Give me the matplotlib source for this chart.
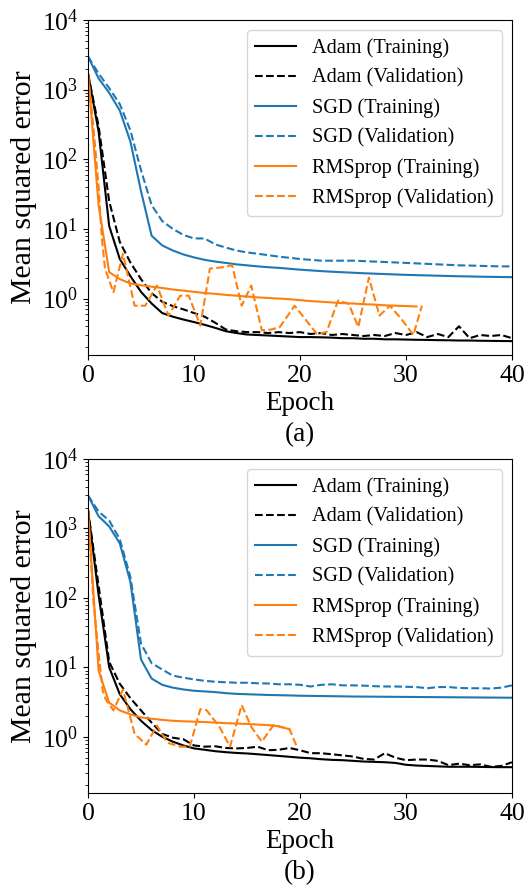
import numpy as np
import matplotlib
matplotlib.use("Agg")
import matplotlib.pyplot as plt

plt.rcParams['font.family'] = ['Liberation Serif', 'DejaVu Serif']
plt.rcParams['mathtext.fontset'] = 'custom'
plt.rcParams['mathtext.rm'] = 'Liberation Serif'
plt.rcParams['mathtext.it'] = 'Liberation Serif:italic'

# ---------------- Panel (a) ----------------
a_epochs = list(range(41))
a_sgd_train = [3000, 1450, 900, 500, 180, 35, 8, 5.8, 4.9, 4.3, 3.9, 3.6, 3.4, 3.25, 3.1, 3.0,
               2.9, 2.82, 2.76, 2.68, 2.6, 2.54, 2.48, 2.43, 2.39, 2.35, 2.31, 2.28, 2.25, 2.22,
               2.19, 2.17, 2.15, 2.13, 2.11, 2.09, 2.08, 2.06, 2.05, 2.04, 2.03]
a_sgd_val = [3000, 1700, 1050, 620, 260, 70, 22, 13, 10, 8.2, 7.3, 7.3, 6.0, 5.4, 4.9, 4.6,
             4.4, 4.2, 4.0, 3.85, 3.7, 3.6, 3.5, 3.5, 3.5, 3.5, 3.45, 3.4, 3.35, 3.3,
             3.25, 3.2, 3.15, 3.1, 3.05, 3.0, 2.98, 2.95, 2.92, 2.9, 2.9]
a_adam_train = [1700, 250, 11, 3.7, 2.1, 1.25, 0.85, 0.62, 0.55, 0.5, 0.46, 0.42, 0.38, 0.34,
                0.32, 0.305, 0.3, 0.295, 0.29, 0.285, 0.28, 0.28, 0.278, 0.275, 0.27, 0.27,
                0.265, 0.265, 0.26, 0.26, 0.258, 0.256, 0.255, 0.253, 0.252, 0.25, 0.25,
                0.248, 0.247, 0.246, 0.245]
a_adam_val = [1700, 300, 25, 6.5, 3.3, 1.9, 1.2, 0.9, 0.78, 0.7, 0.62, 0.55, 0.45, 0.36, 0.34,
              0.33, 0.33, 0.32, 0.33, 0.32, 0.33, 0.31, 0.32, 0.3, 0.31, 0.3, 0.29, 0.3, 0.29,
              0.32, 0.3, 0.33, 0.28, 0.31, 0.28, 0.4, 0.27, 0.3, 0.29, 0.3, 0.27]
a_rms_train_epochs = list(range(32))
a_rms_train = [1700, 22, 2.4, 1.9, 1.65, 1.55, 1.48, 1.42, 1.35, 1.3, 1.25, 1.2, 1.17, 1.13,
               1.1, 1.07, 1.04, 1.02, 1.0, 0.98, 0.95, 0.92, 0.9, 0.88, 0.86, 0.85, 0.83,
               0.82, 0.8, 0.79, 0.78, 0.77]
a_rms_val_epochs = [0, 0.5, 1.0, 1.3, 1.6, 2.4, 3.3, 4.4, 5.4, 6.5, 7.6, 8.7, 9.5, 10.6, 11.5,
                    12.6, 13.6, 14.5, 15.4, 16.4, 17.3, 18.1, 19.5, 21.6, 22.5, 23.6, 24.6,
                    25.5, 26.5, 27.5, 28.5, 29.6, 30.7, 31.5]
a_rms_val = [1700, 300, 40, 7.6, 2.7, 1.23, 4.4, 0.79, 0.79, 1.54, 0.57, 1.1, 1.1, 0.41, 2.7,
             2.8, 3.0, 0.79, 1.54, 0.35, 0.36, 0.39, 0.79, 0.31, 0.33, 0.94, 0.84, 0.39, 2.0,
             0.57, 0.79, 0.5, 0.30, 0.79]

# ---------------- Panel (b) ----------------
b_epochs = list(range(41))
b_sgd_train = [3000, 1500, 1070, 610, 170, 13, 6.9, 5.6, 5.1, 4.8, 4.6, 4.5, 4.4, 4.25, 4.15,
               4.1, 4.05, 4.0, 3.97, 3.94, 3.9, 3.88, 3.86, 3.84, 3.82, 3.8, 3.79, 3.78, 3.77,
               3.76, 3.75, 3.74, 3.73, 3.72, 3.71, 3.7, 3.69, 3.68, 3.67, 3.66, 3.65]
b_sgd_val = [3000, 1750, 1300, 700, 200, 22, 11.5, 9.3, 7.6, 7.1, 6.7, 6.4, 6.2, 6.1, 6.0, 6.0,
             5.9, 5.85, 5.7, 5.7, 5.6, 5.3, 5.6, 5.7, 5.5, 5.5, 5.45, 5.35, 5.3, 5.3, 5.25,
             5.2, 5.0, 5.2, 5.2, 5.05, 5.0, 5.0, 4.95, 5.1, 5.5]
b_adam_train = [1850, 110, 10, 4.1, 2.5, 1.7, 1.25, 1.0, 0.85, 0.75, 0.68, 0.65, 0.62, 0.6,
                0.585, 0.575, 0.56, 0.545, 0.53, 0.515, 0.5, 0.49, 0.475, 0.465, 0.46, 0.45,
                0.44, 0.435, 0.43, 0.42, 0.395, 0.385, 0.38, 0.375, 0.37, 0.37, 0.37, 0.368,
                0.366, 0.365, 0.365]
b_adam_val = [1850, 150, 12, 5.8, 3.6, 2.4, 1.6, 1.1, 0.97, 0.92, 0.75, 0.72, 0.73, 0.69, 0.68,
              0.69, 0.72, 0.64, 0.65, 0.69, 0.64, 0.58, 0.58, 0.56, 0.54, 0.52, 0.48, 0.47,
              0.58, 0.5, 0.46, 0.47, 0.47, 0.45, 0.39, 0.41, 0.39, 0.4, 0.37, 0.38, 0.43]
b_rms_train_epochs = list(range(20))
b_rms_train = [1850, 9, 3.1, 2.4, 2.1, 1.9, 1.82, 1.75, 1.7, 1.67, 1.65, 1.63, 1.6, 1.57,
               1.55, 1.53, 1.5, 1.47, 1.42, 1.28]
b_rms_val_epochs = [0, 0.5, 1.0, 1.4, 1.7, 2.4, 3.3, 4.4, 5.5, 6.5, 7.5, 8.7, 9.6, 10.6, 11.2,
                    12.4, 13.4, 14.5, 15.4, 16.4, 17.5, 18.1, 19.0, 19.7]
b_rms_val = [1850, 93, 16, 4.5, 3.4, 2.4, 4.8, 1.1, 0.77, 1.45, 0.82, 0.72, 0.72, 2.5, 2.4,
             1.39, 0.72, 2.86, 1.39, 0.85, 1.47, 1.39, 1.3, 0.72]

xticks = [0, 10, 20, 30, 40]
labels = ['Adam (Training)', 'Adam (Validation)', 'SGD (Training)', 'SGD (Validation)',
          'RMSprop (Training)', 'RMSprop (Validation)']
BLUE = '#1f77b4'
ORANGE = '#ff7f0e'

fig = plt.figure(figsize=(5.25, 8.91), dpi=100)
ax_a = fig.add_axes([0.1676, 0.6016, 0.8076, 0.376])
ax_b = fig.add_axes([0.1676, 0.110, 0.8076, 0.3748])

panels = [
    (ax_a, a_epochs, a_adam_train, a_adam_val, a_sgd_train, a_sgd_val,
     a_rms_train_epochs, a_rms_train, a_rms_val_epochs, a_rms_val, '(a)'),
    (ax_b, b_epochs, b_adam_train, b_adam_val, b_sgd_train, b_sgd_val,
     b_rms_train_epochs, b_rms_train, b_rms_val_epochs, b_rms_val, '(b)'),
]

FS = 18.5
lw = 1.5
for (ax, ep, adt, adv, sgt, sgv, rte, rt, rve, rv, tag) in panels:
    ax.plot(ep, adt, color='black', lw=lw, ls='-', label=labels[0])
    ax.plot(ep, adv, color='black', lw=lw, ls='--', label=labels[1])
    ax.plot(ep, sgt, color=BLUE, lw=lw, ls='-', label=labels[2])
    ax.plot(ep, sgv, color=BLUE, lw=lw, ls='--', label=labels[3])
    ax.plot(rte, rt, color=ORANGE, lw=lw, ls='-', label=labels[4])
    ax.plot(rve, rv, color=ORANGE, lw=lw, ls='--', label=labels[5])
    ax.set_yscale('log')
    ax.set_ylim(0.155, 1e4)
    ax.set_xlim(0, 40)
    ax.set_xticks(xticks)
    ax.tick_params(axis='both', which='major', labelsize=FS)
    ax.set_xlabel('Epoch', fontsize=19.5, labelpad=3)
    ax.set_ylabel('Mean squared error', fontsize=21.5, labelpad=3)
    ax.legend(loc='upper right', fontsize=14.6, labelspacing=0.52)
    pos = ax.get_position()
    fig.text((pos.x0 + pos.x1) / 2, pos.y0 - 0.0895, tag, fontsize=19.5, ha='center', va='center')

fig.savefig('out.png', dpi=100)
